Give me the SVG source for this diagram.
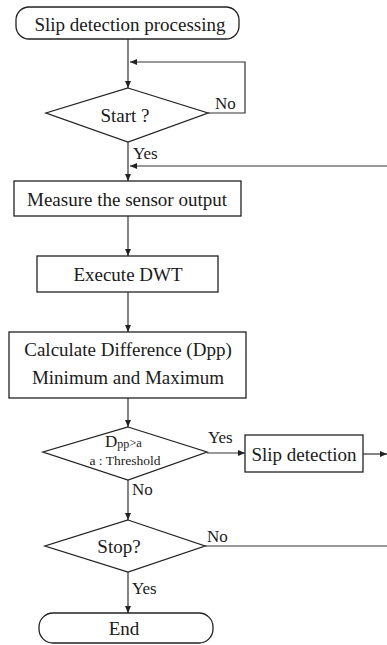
<svg xmlns="http://www.w3.org/2000/svg" width="387" height="645" viewBox="0 0 387 645">
<defs>
<style>
.shape{fill:none;stroke:#222;stroke-width:1.3}
.line{fill:none;stroke:#333;stroke-width:1.2}
.t{font-family:"Liberation Serif","Times New Roman",serif;font-size:19px;fill:#1a1a1a;text-anchor:middle}
.s{font-family:"Liberation Serif","Times New Roman",serif;font-size:17px;fill:#1a1a1a}
</style>
<marker id="arr" markerWidth="8" markerHeight="8" refX="7" refY="4" orient="auto" markerUnits="userSpaceOnUse">
<path d="M0,1 L7,4 L0,7 Z" fill="#222"/>
</marker>
</defs>
<rect width="387" height="645" fill="#fff"/>
<g id="connectors">
<path class="line" d="M128,39 V88" marker-end="url(#arr)"/>
<path class="line" d="M208,113 H245 V62 H130" marker-end="url(#arr)"/>
<path class="line" d="M128,142 V181" marker-end="url(#arr)"/>
<path class="line" d="M387,166 H130" marker-end="url(#arr)"/>
<path class="line" d="M128,216 V256" marker-end="url(#arr)"/>
<path class="line" d="M128,292 V332" marker-end="url(#arr)"/>
<path class="line" d="M128,398 V427" marker-end="url(#arr)"/>
<path class="line" d="M207,453 H245" marker-end="url(#arr)"/>
<path class="line" d="M363,454 H387" marker-end="url(#arr)"/>
<path class="line" d="M128,480 V520" marker-end="url(#arr)"/>
<path class="line" d="M205,546 H387"/>
<path class="line" d="M128,572 V613" marker-end="url(#arr)"/>
<text class="s" x="215" y="109">No</text>
<text class="s" x="133" y="159">Yes</text>
<text class="s" x="208" y="443">Yes</text>
<text class="s" x="132" y="495">No</text>
<text class="s" x="207" y="542">No</text>
<text class="s" x="132" y="594">Yes</text>
</g>
<g id="start-terminal">
<rect class="shape" x="16" y="7" width="223" height="32" rx="13"/>
<text class="t" x="130" y="31">Slip detection processing</text>
</g>
<g id="start-decision">
<path class="shape" d="M128,88 L208,113 L128,142 L46,113 Z"/>
<text class="t" x="125" y="122">Start ?</text>
</g>
<g id="measure">
<rect class="shape" x="14" y="181" width="227" height="35"/>
<text class="t" x="127" y="206">Measure the sensor output</text>
</g>
<g id="dwt">
<rect class="shape" x="37" y="256" width="181" height="36"/>
<text class="t" x="128" y="281">Execute DWT</text>
</g>
<g id="calculate">
<rect class="shape" x="9" y="332" width="237" height="66"/>
<text class="t" x="128" y="356">Calculate Difference (Dpp)</text>
<text class="t" x="128" y="384">Minimum and Maximum</text>
</g>
<g id="threshold-decision">
<path class="shape" d="M128,427 L207,452 L128,480 L43,452 Z"/>
<text x="105" y="447" style="font-family:'Liberation Serif','Times New Roman',serif;fill:#1a1a1a"><tspan font-size="17">D</tspan><tspan font-size="12" dy="1">pp</tspan><tspan font-size="12.5" dy="-1">&gt;a</tspan></text>
<text x="125" y="465" style="font-family:'Liberation Serif','Times New Roman',serif;font-size:13.5px;fill:#1a1a1a;text-anchor:middle">a : Threshold</text>
</g>
<g id="slip-detection">
<rect class="shape" x="245" y="435" width="118" height="37"/>
<text class="t" x="304" y="461">Slip detection</text>
</g>
<g id="stop-decision">
<path class="shape" d="M128,520 L205,546 L128,572 L45,546 Z"/>
<text class="t" x="119" y="553">Stop?</text>
</g>
<g id="end-terminal">
<rect class="shape" x="39" y="613" width="174" height="30" rx="14"/>
<text class="t" x="124" y="635">End</text>
</g>
</svg>
